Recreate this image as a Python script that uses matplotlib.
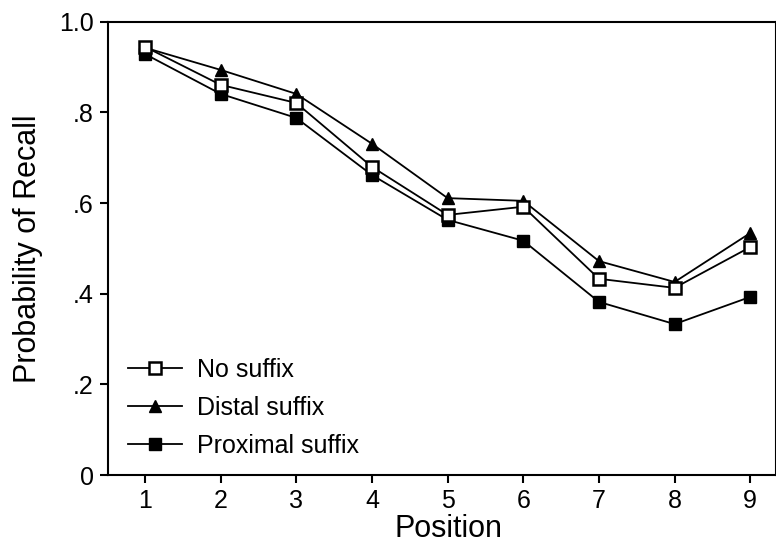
import matplotlib.pyplot as plt
from matplotlib.ticker import FixedLocator, FixedFormatter

plt.rcParams['font.family'] = ['Liberation Sans', 'DejaVu Sans']

# serial positions and recall probabilities
position = [1, 2, 3, 4, 5, 6, 7, 8, 9]
no_suffix = [0.945, 0.861, 0.821, 0.680, 0.574, 0.592, 0.433, 0.413, 0.503]
distal_suffix = [0.943, 0.894, 0.841, 0.731, 0.611, 0.605, 0.472, 0.426, 0.534]
proximal_suffix = [0.929, 0.841, 0.788, 0.662, 0.563, 0.517, 0.382, 0.333, 0.393]

y_ticks = [0, 0.2, 0.4, 0.6, 0.8, 1.0]
y_ticklabels = ['0', '.2', '.4', '.6', '.8', '1.0']

fig = plt.figure(figsize=(7.76, 5.46), dpi=100)
ax = fig.add_axes([0.139, 0.130, 0.861, 0.830])

lw = 1.3
ax.plot(position, no_suffix, color='black', lw=lw, marker='s', ms=9,
        mfc='white', mec='black', mew=1.8, label='No suffix', zorder=3)
ax.plot(position, distal_suffix, color='black', lw=lw, marker='^', ms=8,
        mfc='black', mec='black', label='Distal suffix', zorder=2)
ax.plot(position, proximal_suffix, color='black', lw=lw, marker='s', ms=9,
        mfc='black', mec='black', label='Proximal suffix', zorder=2)

ax.set_xlim(0.51, 9.34)
ax.set_ylim(0, 1.0)
ax.set_xticks(position)
ax.yaxis.set_major_locator(FixedLocator(y_ticks))
ax.yaxis.set_major_formatter(FixedFormatter(y_ticklabels))

for s in ['left', 'bottom', 'top', 'right']:
    ax.spines[s].set_linewidth(1.5)
ax.tick_params(direction='out', length=6, width=1.5, labelsize=18, pad=4,
               top=False, right=False)

ax.set_xlabel('Position', fontsize=22)
ax.xaxis.set_label_coords(0.51, -0.086)
ax.set_ylabel('Probability of Recall', fontsize=22, labelpad=12)

ax.legend(loc='upper left', bbox_to_anchor=(0.03, 0.258), frameon=False,
          fontsize=18, handlelength=2.15, labelspacing=0.56, handletextpad=0.6,
          borderpad=0, borderaxespad=0)

fig.savefig('out.png', dpi=100)
